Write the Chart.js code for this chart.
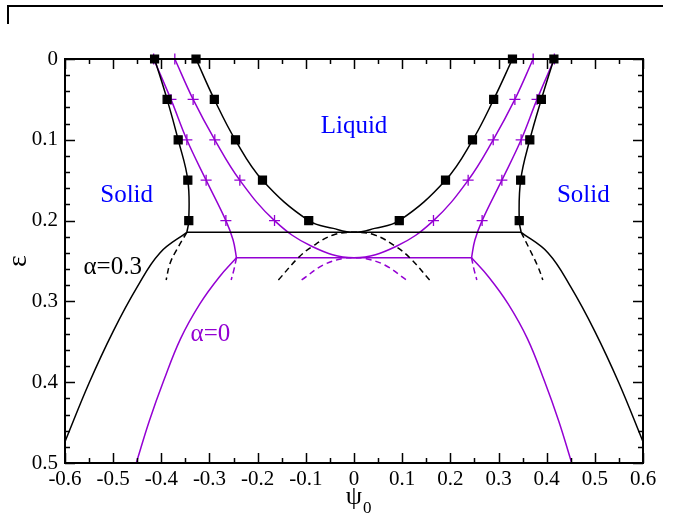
<!DOCTYPE html>
<html>
<head>
<meta charset="utf-8">
<script src="https://cdn.jsdelivr.net/npm/chart.js@4/dist/chart.umd.min.js"></script>
<style>
  body { margin: 0; background: #fff; }
  #wrap { position: relative; width: 675px; height: 514px; }
  #corner { position: absolute; left: 7px; top: 5px; width: 654px; height: 17px;
            border-top: 2px solid #000; border-left: 2px solid #000; }
  canvas { position: absolute; left: 0; top: 0; }
</style>
</head>
<body>
<div id="wrap">
  <canvas id="phaseChart" width="675" height="514"></canvas>
  <div id="corner"></div>
</div>
<script>
// epsilon rows where simulation points were taken
const sqEps = [0, 0.05, 0.1, 0.15, 0.2];

// alpha = 0.3 simulation points (black squares)
const sqOuterLeft = [-0.414, -0.388, -0.365, -0.345, -0.343];
const sqInnerLeft = [-0.328, -0.290, -0.246, -0.190, -0.094];
const sqInnerRight = [0.329, 0.290, 0.246, 0.190, 0.094];
const sqOuterRight = [0.415, 0.389, 0.365, 0.346, 0.343];

// alpha = 0 simulation points (purple pluses)
const plOuterLeft = [-0.416, -0.380, -0.347, -0.307, -0.266];
const plInnerLeft = [-0.372, -0.334, -0.289, -0.237, -0.165];
const plInnerRight = [0.372, 0.334, 0.289, 0.237, 0.165];
const plOuterRight = [0.416, 0.380, 0.347, 0.307, 0.266];

// alpha = 0.3 curves [psi0, epsilon]
const blackOuterLeft = [[-0.414, 0], [-0.388, 0.05], [-0.365, 0.1], [-0.345, 0.15], [-0.343, 0.2], [-0.347, 0.2145]];
const blackOuterRight = [[0.415, 0], [0.389, 0.05], [0.365, 0.1], [0.346, 0.15], [0.343, 0.2], [0.347, 0.2145]];
const blackInner = [[-0.328, 0], [-0.290, 0.05], [-0.2465, 0.1], [-0.190, 0.15], [-0.094, 0.2], [-0.043, 0.2096], [0, 0.2145],
  [0.043, 0.2096], [0.094, 0.2], [0.190, 0.15], [0.2465, 0.1], [0.290, 0.05], [0.329, 0]];
const blackTie = [[-0.347, 0.2145], [0.347, 0.2145]];
const blackLowerLeft = [[-0.347, 0.2145], [-0.403, 0.240], [-0.45, 0.282], [-0.5, 0.337], [-0.55, 0.401], [-0.6, 0.4736]];
const blackLowerRight = [[0.347, 0.2145], [0.403, 0.240], [0.45, 0.282], [0.5, 0.337], [0.55, 0.401], [0.6, 0.4736]];
const blackDashLeft = [[-0.347, 0.2145], [-0.368, 0.236], [-0.382, 0.253], [-0.390, 0.2735]];
const blackDashRight = [[0.347, 0.2145], [0.365, 0.236], [0.3826, 0.258], [0.392, 0.2735]];
const blackDashArch = [[-0.157, 0.2735], [-0.1157, 0.246], [-0.0865, 0.232], [-0.043, 0.2178], [0, 0.2145],
  [0.043, 0.2178], [0.0865, 0.232], [0.1157, 0.246], [0.157, 0.2735]];

// alpha = 0 curves
const purpleOuterLeft = [[-0.416, 0], [-0.380, 0.05], [-0.347, 0.1], [-0.307, 0.15], [-0.266, 0.2], [-0.251, 0.224], [-0.244, 0.246]];
const purpleOuterRight = [[0.416, 0], [0.380, 0.05], [0.347, 0.1], [0.307, 0.15], [0.266, 0.2], [0.251, 0.224], [0.244, 0.246]];
const purpleInner = [[-0.372, 0], [-0.334, 0.05], [-0.289, 0.1], [-0.237, 0.15], [-0.165, 0.2], [-0.087, 0.232], [0, 0.246],
  [0.087, 0.232], [0.165, 0.2], [0.237, 0.15], [0.289, 0.1], [0.334, 0.05], [0.372, 0]];
const purpleTie = [[-0.244, 0.246], [0.244, 0.246]];
const purpleLowerLeft = [[-0.244, 0.246], [-0.28, 0.270], [-0.32, 0.303], [-0.36, 0.346], [-0.395, 0.398], [-0.425, 0.448], [-0.452, 0.5]];
const purpleLowerRight = [[0.244, 0.246], [0.28, 0.270], [0.32, 0.303], [0.36, 0.346], [0.395, 0.398], [0.425, 0.448], [0.452, 0.5]];
const purpleDashLeft = [[-0.244, 0.246], [-0.249, 0.26], [-0.255, 0.2735]];
const purpleDashRight = [[0.244, 0.246], [0.249, 0.26], [0.255, 0.2735]];
const purpleDashArch = [[-0.1087, 0.2735], [-0.0638, 0.255], [-0.022, 0.2467], [0, 0.246],
  [0.022, 0.2467], [0.0638, 0.255], [0.1087, 0.2735]];

// text labels in data coordinates [text, psi0, epsilon, colour key]
const regionLabels = [
  ['Liquid', 0.0, 0.091, 'blue'],
  ['Solid', -0.472, 0.177, 'blue'],
  ['Solid', 0.476, 0.177, 'blue'],
  ['\u03b1=0.3', -0.501, 0.266, 'black'],
  ['\u03b1=0', -0.298, 0.3486, 'purple']
];

const PURPLE = 'rgb(148,0,211)';
const colours = { blue: '#0000ff', black: '#000000', purple: PURPLE };
const SERIF = '"Liberation Serif", "DejaVu Serif", serif';

const toPts = (xs, ys) => xs.map((x, i) => ({ x: x, y: ys[i] }));
const pairs = arr => arr.map(p => ({ x: p[0], y: p[1] }));

function markers(xs, style, colour, radius) {
  return {
    data: toPts(xs, sqEps),
    showLine: false,
    pointStyle: style,
    pointRadius: radius,
    pointBackgroundColor: colour,
    pointBorderColor: colour,
    pointBorderWidth: 1.3,
    clip: false
  };
}

function curve(arr, colour, dashed) {
  return {
    data: pairs(arr),
    showLine: true,
    borderColor: colour,
    borderWidth: 1.5,
    borderDash: dashed ? [6, 4] : [],
    pointRadius: 0,
    tension: 0.4,
    fill: false
  };
}

const datasets = [
  markers(sqOuterLeft, 'rect', '#000', 5.6),
  markers(sqInnerLeft, 'rect', '#000', 5.6),
  markers(sqInnerRight, 'rect', '#000', 5.6),
  markers(sqOuterRight, 'rect', '#000', 5.6),
  markers(plOuterLeft, 'cross', PURPLE, 5.5),
  markers(plInnerLeft, 'cross', PURPLE, 5.5),
  markers(plInnerRight, 'cross', PURPLE, 5.5),
  markers(plOuterRight, 'cross', PURPLE, 5.5),
  curve(blackOuterLeft, '#000'),
  curve(blackOuterRight, '#000'),
  curve(blackInner, '#000'),
  curve(blackTie, '#000'),
  curve(blackLowerLeft, '#000'),
  curve(blackLowerRight, '#000'),
  curve(blackDashLeft, '#000', true),
  curve(blackDashRight, '#000', true),
  curve(blackDashArch, '#000', true),
  curve(purpleOuterLeft, PURPLE),
  curve(purpleOuterRight, PURPLE),
  curve(purpleInner, PURPLE),
  curve(purpleTie, PURPLE),
  curve(purpleLowerLeft, PURPLE),
  curve(purpleLowerRight, PURPLE),
  curve(purpleDashLeft, PURPLE, true),
  curve(purpleDashRight, PURPLE, true),
  curve(purpleDashArch, PURPLE, true)
];

// frame, inward ticks, axis titles and region labels
const framePlugin = {
  id: 'frame',
  afterDraw(chart) {
    const ctx = chart.ctx;
    const a = chart.chartArea;
    const xs = chart.scales.x, ys = chart.scales.y;
    ctx.save();
    ctx.strokeStyle = '#000';
    ctx.lineWidth = 1.5;
    ctx.beginPath();
    for (let i = -12; i <= 12; i++) {
      const px = Math.round(xs.getPixelForValue(i * 0.05)) + 0.5;
      const len = i % 2 === 0 ? 10 : 5;
      ctx.moveTo(px, a.bottom); ctx.lineTo(px, a.bottom - len);
      ctx.moveTo(px, a.top); ctx.lineTo(px, a.top + len);
    }
    for (let j = 0; j <= 25; j++) {
      const py = Math.round(ys.getPixelForValue(j * 0.02)) + 0.5;
      const len = j % 5 === 0 ? 10 : 5;
      ctx.moveTo(a.left, py); ctx.lineTo(a.left + len, py);
      ctx.moveTo(a.right, py); ctx.lineTo(a.right - len, py);
    }
    ctx.stroke();
    ctx.lineWidth = 2;
    ctx.strokeRect(a.left, a.top, a.right - a.left, a.bottom - a.top);

    ctx.textAlign = 'center';
    ctx.textBaseline = 'alphabetic';
    ctx.font = '25px ' + SERIF;
    regionLabels.forEach(l => {
      ctx.fillStyle = colours[l[3]];
      ctx.fillText(l[0], xs.getPixelForValue(l[1]), ys.getPixelForValue(l[2]));
    });

    // x title: psi with subscript 0
    ctx.fillStyle = '#000';
    const cx = (a.left + a.right) / 2;
    ctx.font = '26px ' + SERIF;
    ctx.textAlign = 'right';
    ctx.fillText('\u03c8', cx + 8, 504);
    ctx.textAlign = 'left';
    ctx.font = '17px ' + SERIF;
    ctx.fillText('0', cx + 9, 513);

    // y title: epsilon, rotated
    ctx.save();
    ctx.translate(26, (a.top + a.bottom) / 2);
    ctx.rotate(-Math.PI / 2);
    ctx.textAlign = 'center';
    ctx.font = '28px ' + SERIF;
    ctx.fillText('\u03b5', 0, 0);
    ctx.restore();
    ctx.restore();
  }
};

const fmt = v => (Math.abs(v) < 1e-9 ? '0' : v.toFixed(1));

new Chart(document.getElementById('phaseChart').getContext('2d'), {
  type: 'scatter',
  data: { datasets: datasets },
  options: {
    responsive: false,
    animation: false,
    devicePixelRatio: 1,
    layout: { padding: { top: 59, right: 32, left: 0, bottom: 0 } },
    plugins: { legend: { display: false }, tooltip: { enabled: false } },
    scales: {
      x: {
        type: 'linear',
        min: -0.6,
        max: 0.6,
        grid: { display: false, drawTicks: false, tickLength: 0 },
        border: { display: false },
        ticks: { stepSize: 0.1, color: '#000', padding: 4, maxRotation: 0, autoSkip: false,
                 font: { family: SERIF, size: 21 }, callback: fmt },
        afterFit: s => { s.height = 51; }
      },
      y: {
        type: 'linear',
        reverse: true,
        min: 0,
        max: 0.5,
        grid: { display: false, drawTicks: false, tickLength: 0 },
        border: { display: false },
        ticks: { stepSize: 0.1, color: '#000', padding: 7, autoSkip: false,
                 font: { family: SERIF, size: 21 }, callback: fmt },
        afterFit: s => { s.width = 65; }
      }
    }
  },
  plugins: [framePlugin]
});
</script>
</body>
</html>
